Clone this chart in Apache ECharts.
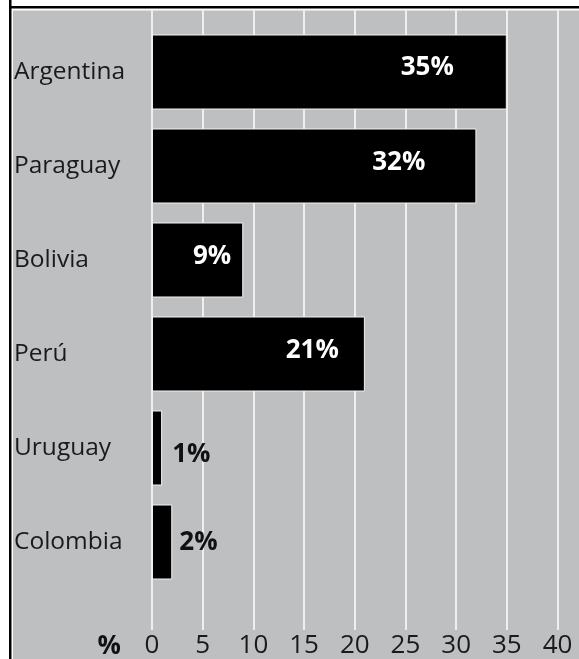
<!DOCTYPE html>
<html>
<head>
<meta charset="utf-8">
<script src="https://cdn.jsdelivr.net/npm/echarts@6/dist/echarts.min.js"></script>
<style>
html,body{margin:0;padding:0;background:#fff;}
#chart{width:579px;height:659px;}
</style>
</head>
<body>
<div id="chart"></div>
<script>
// ---- data ----
const categories = ['Argentina', 'Paraguay', 'Bolivia', 'Perú', 'Uruguay', 'Colombia'];
const values = [35, 32, 9, 21, 1, 2];
const tickValues = [0, 5, 10, 15, 20, 25, 30, 35, 40];
const axisUnit = '%';

// ---- styles (per bar label placement) ----
const labelStyles = [
  {position: 'insideRight', distance: 53, color: '#fff', offset: [0, -4]},
  {position: 'insideRight', distance: 51, color: '#fff', offset: [0, -3]},
  {position: 'insideRight', distance: 12, color: '#fff', offset: [0, -3]},
  {position: 'insideRight', distance: 26, color: '#fff', offset: [0, -3]},
  {position: 'right', distance: 10, color: '#111', offset: [0, 7]},
  {position: 'right', distance: 7, color: '#111', offset: [0, 1]}
];

const FONT = '"Open Sans", "Noto Sans", sans-serif';
const chart = echarts.init(document.getElementById('chart'));

const barData = values.map((v, i) => ({
  value: v,
  label: Object.assign({show: true}, labelStyles[i])
}));

const option = {
  animation: false,
  backgroundColor: '#fff',
  graphic: [
    {type: 'rect', shape: {x: 9, y: 0, width: 2.5, height: 659}, style: {fill: '#000'}, z: 0},
    {type: 'rect', shape: {x: 9, y: 6, width: 570, height: 2.5}, style: {fill: '#000'}, z: 0},
    {type: 'rect', shape: {x: 13, y: 10.5, width: 566, height: 649}, style: {fill: '#bebfc1'}, z: -1},
    {type: 'text', right: 579 - 121, top: 634,
     style: {text: axisUnit, font: 'bold 26px ' + FONT, fill: '#111'}}
  ],
  grid: [
    {left: 152, right: 21.5, top: 10.5, bottom: 28, containLabel: false},
    {left: 152, right: 21.5, top: 25, height: 564, containLabel: false}
  ],
  xAxis: [
    {
      gridIndex: 0, type: 'value', min: tickValues[0], max: tickValues[tickValues.length - 1], interval: 5,
      axisLine: {show: false}, axisTick: {show: false},
      splitLine: {show: true, lineStyle: {color: '#fff', width: 1.5}},
      axisLabel: {margin: 3, fontFamily: FONT, fontSize: 26, color: '#1a1a1a'}
    },
    {
      gridIndex: 1, type: 'value', min: tickValues[0], max: tickValues[tickValues.length - 1], interval: 5,
      show: false, splitLine: {show: false}
    }
  ],
  yAxis: [
    {gridIndex: 0, type: 'value', show: false, splitLine: {show: false}},
    {
      gridIndex: 1, type: 'category', data: categories, inverse: true,
      axisLine: {show: false}, axisTick: {show: false},
      axisLabel: {align: 'left', margin: 138, fontFamily: FONT, fontSize: 24.5, color: '#1a1a1a'}
    }
  ],
  series: [{
    type: 'bar',
    xAxisIndex: 1, yAxisIndex: 1,
    data: barData,
    barWidth: 75,
    itemStyle: {color: '#000', borderColor: '#f2f2f2', borderWidth: 1},
    label: {
      formatter: p => p.value + '%',
      fontFamily: FONT, fontWeight: 'bold', fontSize: 26
    }
  }]
};
chart.setOption(option);
</script>
</body>
</html>
